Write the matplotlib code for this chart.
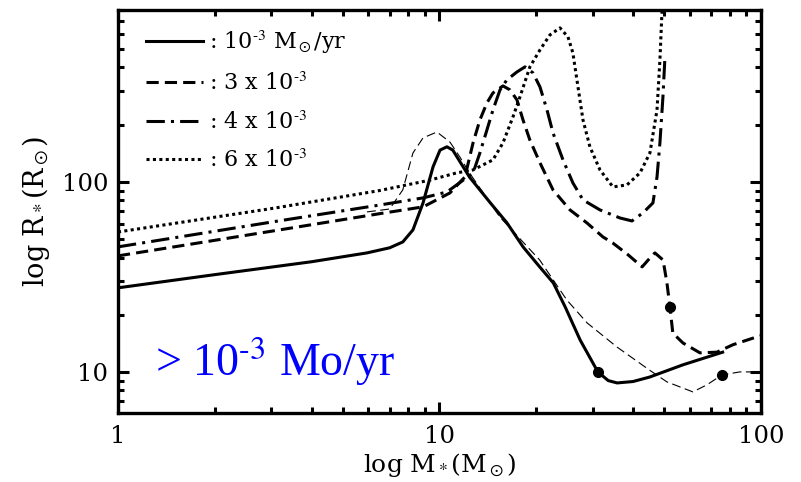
import matplotlib
matplotlib.use("Agg")
import matplotlib.pyplot as plt
from matplotlib.ticker import FixedLocator, LogLocator, NullFormatter, FuncFormatter

plt.rcParams['font.family'] = ['DejaVu Serif']
plt.rcParams['mathtext.fontset'] = 'stix'

# 1e-3 Msun/yr (solid)
m_1 = [1.0, 2.0, 4.0, 5.95, 7.0, 7.69, 8.27, 8.89, 9.55, 10.04, 10.55, 11.0, 12.4, 14.4, 16.2,
       18.2, 20.5, 22.6, 24.6, 27.4, 31.1, 33.5, 35.7, 40.0, 45.1, 57.2, 76.0]
r_1 = [27.7, 32.5, 38.0, 42.3, 45.0, 48.3, 55.9, 77.5, 120, 147, 153, 147, 106, 77.5, 61.0,
       45.5, 35.7, 29.4, 22.0, 14.7, 10.0, 9.0, 8.75, 8.9, 9.4, 10.9, 12.7]

# 3e-3 (dashed)
m_3 = [1.0, 3.1, 6.5, 8.9, 10.78, 12.0, 12.72, 13.36, 14.05, 14.67, 15.76, 16.57, 17.42, 18.19,
       19.11, 20.54, 22.55, 25.47, 28.76, 32.26, 34.6, 38.5, 42.7, 45.0, 46.8, 49.6, 51.0, 52.1,
       53.2, 57.2, 64.6, 72.9, 81.8, 97.2, 100.0]
r_3 = [40.8, 55.5, 68.0, 73.9, 87.5, 106.2, 160.5, 212, 260.5, 294, 320, 305, 270, 212,
       166, 126, 90.8, 71.2, 60.8, 51.3, 47.7, 41.5, 35.7, 39.5, 42.3, 38.8, 29.4, 22.0,
       16.0, 14.2, 12.6, 12.7, 13.9, 15.3, 15.5]

# 4e-3 (dash-dot)
m_4 = [1.0, 3.1, 6.5, 8.9, 10.55, 11.84, 12.72, 13.36, 14.05, 14.67, 15.43, 16.2, 17.42, 18.45,
       19.53, 20.54, 21.6, 22.55, 24.22, 26.0, 27.95, 31.57, 36.42, 39.7, 42.95, 46.13, 47.5,
       48.5, 49.56, 50.28]
r_4 = [45.5, 62.0, 75.5, 82.4, 88.5, 102, 111.5, 142.1, 187.8, 239.3, 305, 344, 379, 403,
       375, 316, 239.3, 181.1, 130.6, 98.8, 80.4, 71.2, 64.6, 62.3, 68.7, 77.5, 106.2,
       160.5, 280.2, 455]

# 6e-3 (dotted)
m_6 = [1.0, 3.1, 6.5, 9.3, 11.3, 12.72, 14.67, 15.76, 16.93, 17.8, 19.11, 20.54, 22.07, 23.71,
       25.1, 26.0, 26.97, 27.95, 29.38, 31.57, 34.64, 38.3, 42.05, 45.15, 47.5, 48.5, 49.2, 49.4]
r_6 = [54.5, 73.0, 90.0, 102, 111.5, 115.6, 130.6, 160.5, 219.9, 280.2, 403, 495, 594, 646.4,
       579.5, 477.5, 316, 212, 152.8, 115.6, 94.1, 96.4, 111.5, 142.1, 239.3, 438.5, 775, 820]

# thin dashed model
m_t = [5.95, 7.0, 7.69, 8.27, 8.89, 9.82, 10.78, 11.58, 12.4, 15.4, 20.5, 24.9, 28.8, 35.7,
       45.1, 51.0, 61.4, 67.9, 75.6, 86.0, 97.0]
r_t = [69.5, 72.0, 90.8, 142, 170.5, 183, 162, 135, 111.5, 65.4, 38.8, 23.9, 18.1, 13.5,
       10.2, 8.86, 7.85, 8.55, 9.64, 10.0, 10.0]

# filled dots
dot_m = [31.1, 52.1, 75.6]
dot_r = [10.0, 22.0, 9.64]

labels = [r': 10$^{\text{-3}}$ M$_\odot$/yr', r': 3 x 10$^{\text{-3}}$',
          r': 4 x 10$^{\text{-3}}$', r': 6 x 10$^{\text{-3}}$']

fig = plt.figure(figsize=(8.01, 4.82), dpi=100)
ax = fig.add_axes([0.1473, 0.1432, 0.8027, 0.8361])

lw = 2.2
ax.plot(m_1, r_1, color='black', lw=lw, label=labels[0])
ax.plot(m_3, r_3, color='black', lw=lw, dashes=(4, 2), label=labels[1])
ax.plot(m_4, r_4, color='black', lw=lw, dashes=(6, 2, 1, 2), label=labels[2])
ax.plot(m_6, r_6, color='black', lw=lw, dashes=(1, 1.1), label=labels[3])
ax.plot(m_t, r_t, color='black', lw=0.8, dashes=(8, 4))
ax.plot(dot_m, dot_r, 'o', color='black', ms=7, ls='none')

ax.set_xscale('log')
ax.set_yscale('log')
ax.set_xlim(1, 100)
ax.set_ylim(6.08, 803)

ax.xaxis.set_major_locator(FixedLocator([1, 10, 100]))
ax.yaxis.set_major_locator(FixedLocator([10, 100]))
ax.xaxis.set_minor_locator(LogLocator(base=10, subs=range(2, 10)))
ax.yaxis.set_minor_locator(LogLocator(base=10, subs=range(2, 10)))
fmt = FuncFormatter(lambda v, p: '%d' % round(v))
ax.xaxis.set_major_formatter(fmt)
ax.yaxis.set_major_formatter(fmt)
ax.xaxis.set_minor_formatter(NullFormatter())
ax.yaxis.set_minor_formatter(NullFormatter())

ax.tick_params(which='both', direction='in', top=True, right=True, width=2.2, labelsize=17.5)
ax.tick_params(which='major', length=8)
ax.tick_params(which='minor', length=4)
ax.tick_params(axis='x', pad=9)
ax.tick_params(axis='y', pad=7)
for s in ax.spines.values():
    s.set_linewidth(2.4)

ax.set_xlabel(r'log M$_*$(M$_\odot$)', fontsize=18, labelpad=2)
ax.set_ylabel(r'log R$_*$(R$_\odot$)', fontsize=19.5, labelpad=7)

ax.text(1.3, 9.6, r'> 10$^{\text{-3}}$ Mo/yr', color='blue', fontsize=33,
        family='Liberation Serif', va='baseline')

ax.legend(loc='upper left', bbox_to_anchor=(0.03, 0.975), frameon=False, fontsize=16,
          handlelength=2.55, handletextpad=0.3, labelspacing=0.74, borderaxespad=0)

fig.savefig('out.png', dpi=100)
